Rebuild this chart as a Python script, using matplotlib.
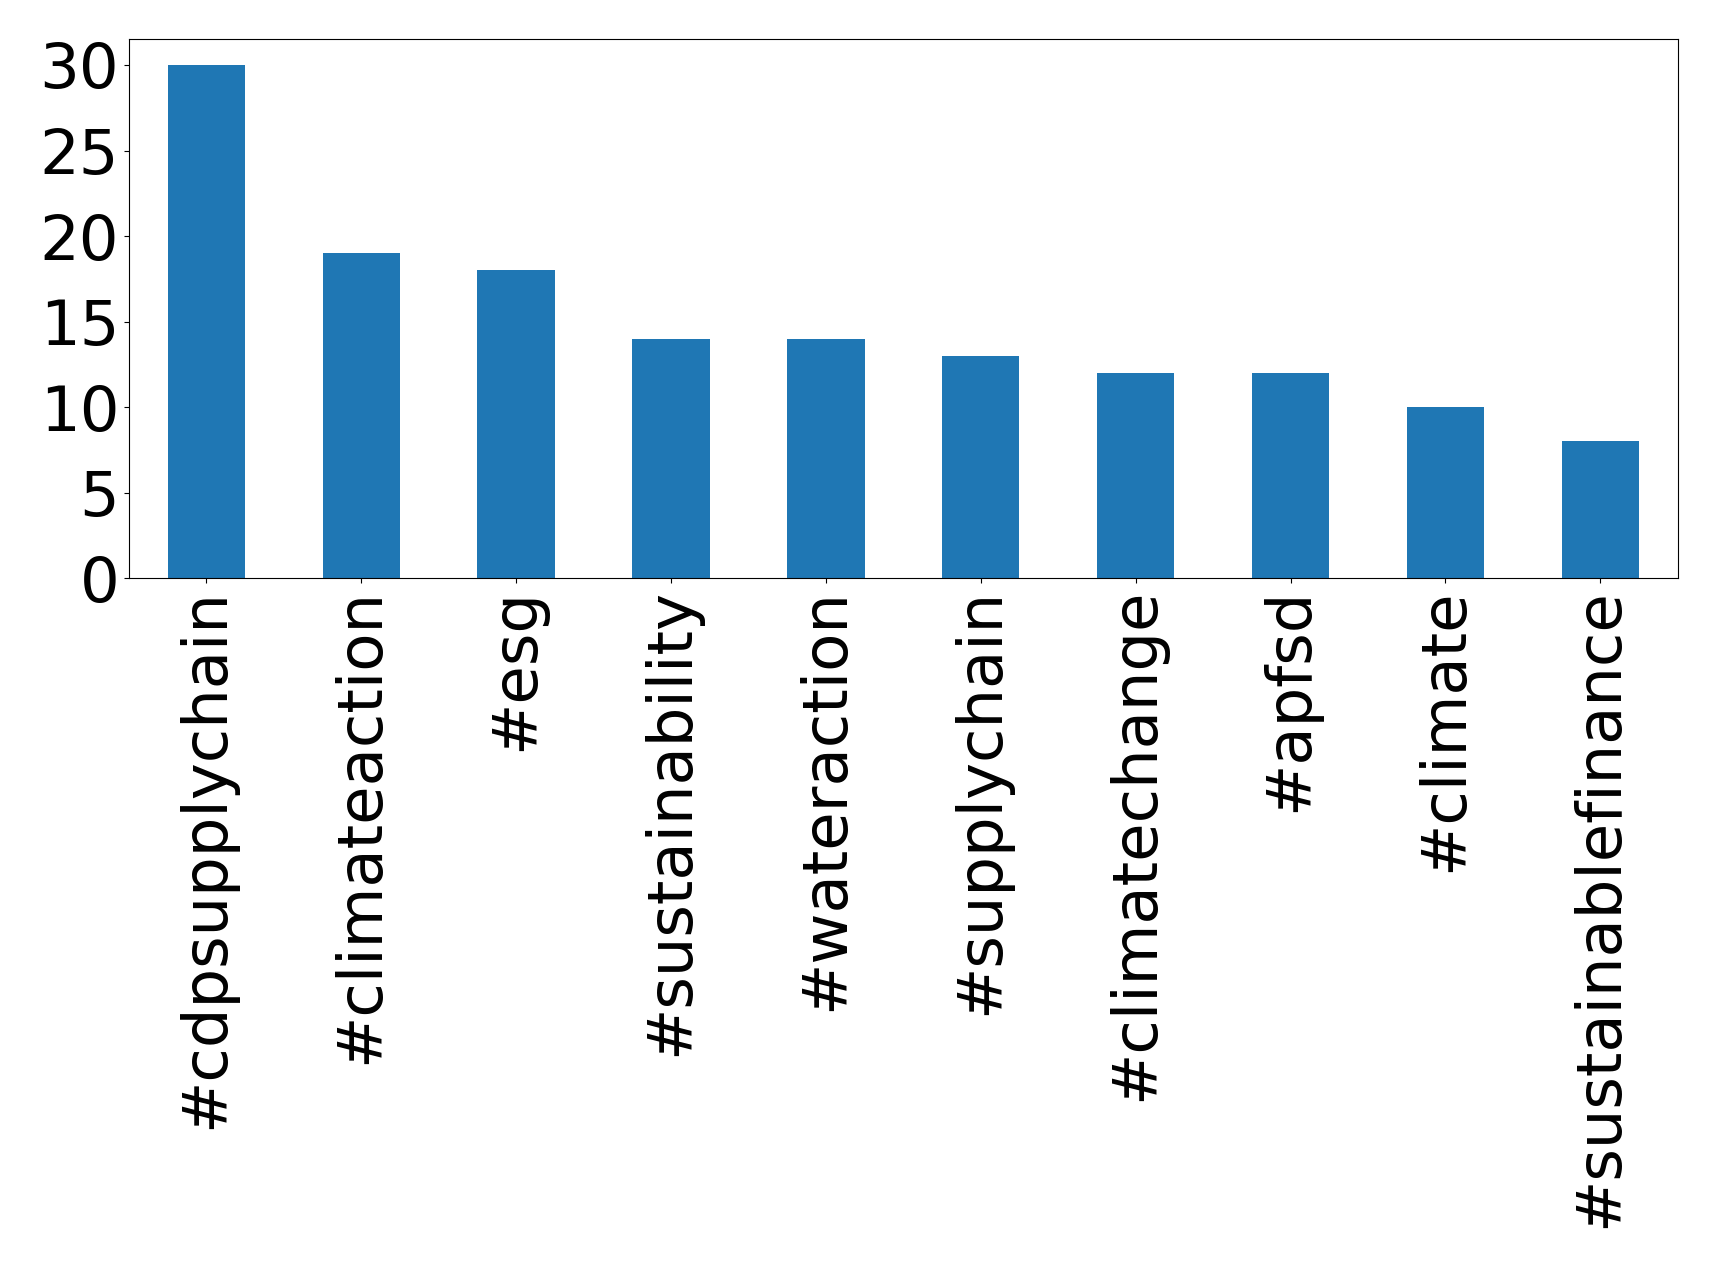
import matplotlib
matplotlib.use('Agg')
import matplotlib.pyplot as plt

# hashtag counts
hashtags = ['#cdpsupplychain', '#climateaction', '#esg', '#sustainability',
            '#wateraction', '#supplychain', '#climatechange', '#apfsd',
            '#climate', '#sustainablefinance']
counts = [30, 19, 18, 14, 14, 13, 12, 12, 10, 8]

fig, ax = plt.subplots(figsize=(17.19, 12.68), dpi=100)
x = range(len(hashtags))
ax.bar(x, counts, width=0.5, color='#1f77b4')
ax.set_xlim(-0.5, len(hashtags) - 0.5)
ax.set_ylim(0, max(counts) * 1.05)
ax.set_xticks(list(x))
ax.set_xticklabels(hashtags, rotation=90, fontsize=45)
ax.tick_params(axis='y', labelsize=45)
ax.set_yticks([0, 5, 10, 15, 20, 25, 30])

plt.subplots_adjust(left=0.075, right=0.976, top=0.969, bottom=0.544)
plt.savefig('out.png')
